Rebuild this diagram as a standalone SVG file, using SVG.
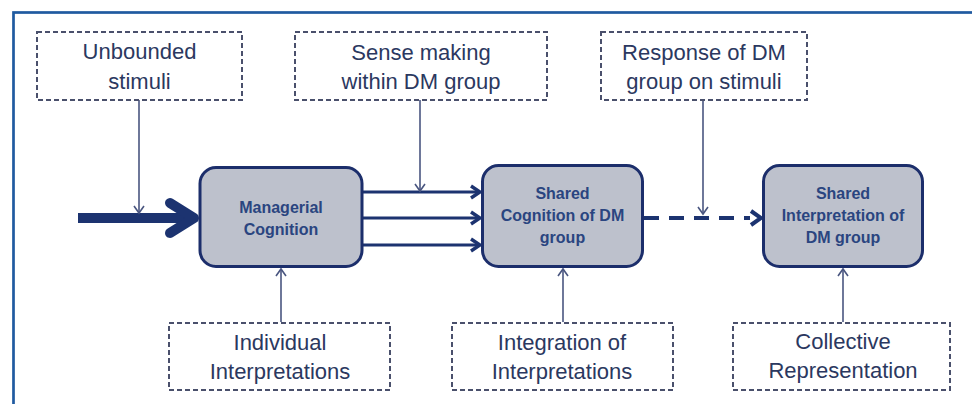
<svg xmlns="http://www.w3.org/2000/svg" width="972" height="404" viewBox="0 0 972 404">
<style>
.frame{fill:none;stroke:#1f5aa0;stroke-width:2.7}
.dbox{fill:#fff;stroke:#4a506c;stroke-width:2;stroke-dasharray:5 3}
.dtxt{font-family:"Liberation Sans",Arial,sans-serif;font-size:22px;fill:#2b3860;text-anchor:middle}
.node{fill:#bdc1cc;stroke:#1c2e6b;stroke-width:3}
.ntxt{font-family:"Liberation Sans",Arial,sans-serif;font-size:16px;font-weight:bold;fill:#2a4580;text-anchor:middle}
.thin{fill:none;stroke:#4a5680;stroke-width:1.6}
.main{fill:none;stroke:#1c3370;stroke-width:3.2}
</style>
<defs>
<marker id="vthin" markerWidth="12" markerHeight="12" refX="10" refY="6" orient="auto" markerUnits="userSpaceOnUse">
<path d="M3,1 L10,6 L3,11" fill="none" stroke="#4a5680" stroke-width="1.6"/>
</marker>
<marker id="chev" markerWidth="16" markerHeight="16" refX="13" refY="8" orient="auto" markerUnits="userSpaceOnUse">
<path d="M4,2 L13,8 L4,14" fill="none" stroke="#1c3370" stroke-width="3.4" stroke-linejoin="miter"/>
</marker>
</defs>
<rect class="frame" x="13.5" y="12.5" width="980" height="420"/>

<g id="connectors">
<line x1="78" y1="218" x2="192" y2="218" stroke="#1c3370" stroke-width="10"/>
<path d="M170,203 L194,218 L170,233" fill="none" stroke="#1c3370" stroke-width="10" stroke-linecap="round" stroke-linejoin="round"/>
<line class="thin" x1="139" y1="100" x2="139" y2="213" marker-end="url(#vthin)"/>
<line class="main" x1="362" y1="192" x2="480" y2="192" marker-end="url(#chev)"/>
<line class="main" x1="362" y1="218" x2="480" y2="218" marker-end="url(#chev)"/>
<line class="main" x1="362" y1="245" x2="480" y2="245" marker-end="url(#chev)"/>
<line class="thin" x1="420" y1="100" x2="420" y2="191" marker-end="url(#vthin)"/>
<line x1="644" y1="218" x2="750" y2="218" stroke="#1c3370" stroke-width="4" stroke-dasharray="15 10"/>
<path d="M751,211 L761,218 L751,225" fill="none" stroke="#1c3370" stroke-width="4"/>
<line class="thin" x1="703" y1="100" x2="703" y2="214" marker-end="url(#vthin)"/>
<line class="thin" x1="281" y1="322" x2="281" y2="269" marker-end="url(#vthin)"/>
<line class="thin" x1="563" y1="322" x2="563" y2="269" marker-end="url(#vthin)"/>
<line class="thin" x1="843" y1="322" x2="843" y2="269" marker-end="url(#vthin)"/>
</g>

<g id="unbounded-stimuli">
<rect class="dbox" x="37" y="32" width="205" height="68"/>
<text class="dtxt" x="139.5" y="59">Unbounded</text>
<text class="dtxt" x="139.5" y="89">stimuli</text>
</g>
<g id="sense-making">
<rect class="dbox" x="295" y="32" width="252" height="68"/>
<text class="dtxt" x="421" y="60">Sense making</text>
<text class="dtxt" x="421" y="89">within DM group</text>
</g>
<g id="response">
<rect class="dbox" x="601" y="32" width="206" height="68"/>
<text class="dtxt" x="704" y="60">Response of DM</text>
<text class="dtxt" x="704" y="89">group on stimuli</text>
</g>

<g id="managerial-cognition">
<rect class="node" x="200" y="167.5" width="162" height="99" rx="16"/>
<text class="ntxt" x="281" y="213">Managerial</text>
<text class="ntxt" x="281" y="235">Cognition</text>
</g>
<g id="shared-cognition">
<rect class="node" x="482.5" y="165.5" width="160" height="101" rx="16"/>
<text class="ntxt" x="562.5" y="199">Shared</text>
<text class="ntxt" x="562.5" y="221">Cognition of DM</text>
<text class="ntxt" x="562.5" y="243">group</text>
</g>
<g id="shared-interpretation">
<rect class="node" x="763.5" y="165.5" width="159" height="101" rx="16"/>
<text class="ntxt" x="843" y="199">Shared</text>
<text class="ntxt" x="843" y="221">Interpretation of</text>
<text class="ntxt" x="843" y="243">DM group</text>
</g>

<g id="individual-interpretations">
<rect class="dbox" x="169" y="323" width="221" height="67"/>
<text class="dtxt" x="280" y="350">Individual</text>
<text class="dtxt" x="280" y="379">Interpretations</text>
</g>
<g id="integration">
<rect class="dbox" x="452" y="323" width="221" height="67"/>
<text class="dtxt" x="562" y="350">Integration of</text>
<text class="dtxt" x="562" y="379">Interpretations</text>
</g>
<g id="collective">
<rect class="dbox" x="733" y="323" width="217" height="67"/>
<text class="dtxt" x="843" y="349">Collective</text>
<text class="dtxt" x="843" y="378">Representation</text>
</g>
</svg>
